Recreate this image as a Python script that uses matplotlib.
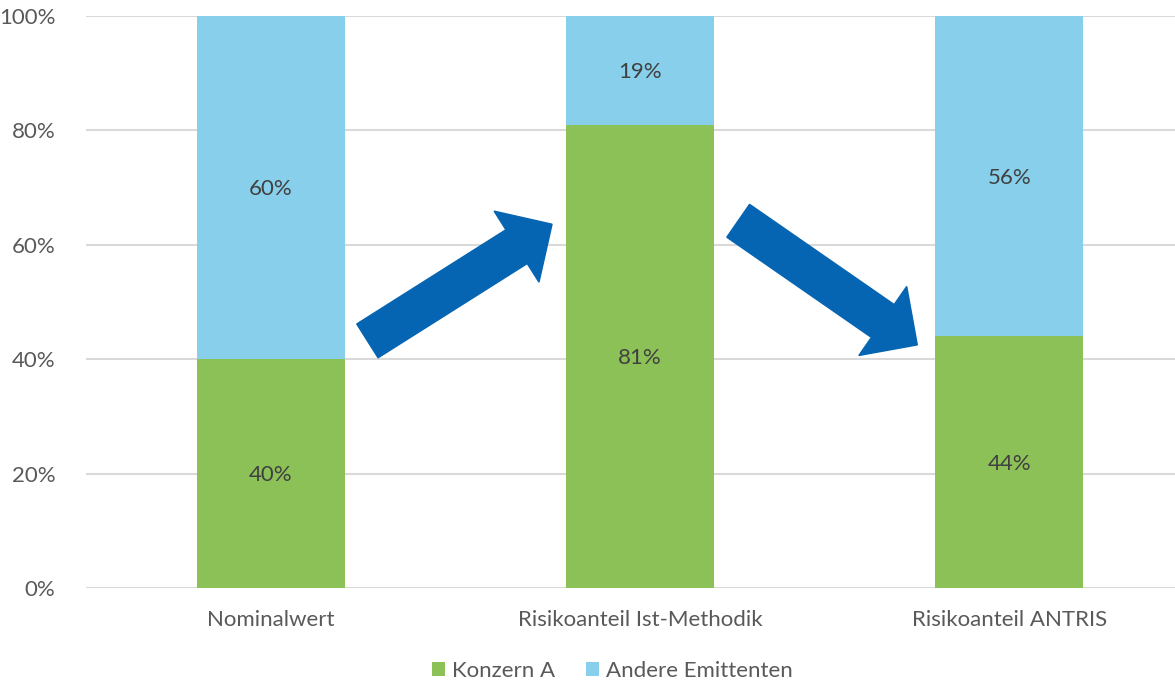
import matplotlib.pyplot as plt
import numpy as np
from matplotlib.patches import FancyArrow
from matplotlib.transforms import IdentityTransform

# Data
categories = ['Nominalwert', 'Risikoanteil Ist-Methodik', 'Risikoanteil ANTRIS']
konzern_a = [40, 81, 44]
andere = [60, 19, 56]
series_names = ['Konzern A', 'Andere Emittenten']
y_ticks = [0, 20, 40, 60, 80, 100]

# arrow annotations (start -> end in data coords)
arrows = [((0.262, 43.2), (0.762, 63.6)),
          ((1.266, 64.2), (1.751, 42.5))]

green = '#8CC157'
blue = '#87CFEA'
arrow_col = '#0565B2'
txt = '#595959'
fs = 16

plt.rcParams['font.family'] = ['Lato', 'DejaVu Sans']

fig = plt.figure(figsize=(11.75, 6.82), dpi=100)
ax = fig.add_axes([86 / 1175, 1 - 588 / 682, 1089 / 1175, 572 / 682])

x = np.arange(len(categories))
w = 0.4
ax.bar(x, konzern_a, w, color=green, label=series_names[0], zorder=3)
ax.bar(x, andere, w, bottom=konzern_a, color=blue, label=series_names[1], zorder=3)

for i in range(len(categories)):
    ax.text(x[i], konzern_a[i] / 2 - 0.3, f'{konzern_a[i]}%', ha='center', va='center',
            fontsize=fs, color='#404040', zorder=4)
    ax.text(x[i], konzern_a[i] + andere[i] / 2 - 0.3, f'{andere[i]}%', ha='center',
            va='center', fontsize=fs, color='#404040', zorder=4)

ax.set_xlim(-0.5, -0.5 + 1089 / 369.3)
ax.set_ylim(0, 100)
ax.set_yticks(y_ticks)
ax.set_yticklabels([f'{v}%' for v in y_ticks])
ax.set_xticks(x)
ax.set_xticklabels(categories)
ax.tick_params(axis='both', length=0, labelsize=fs, labelcolor=txt)
ax.tick_params(axis='y', pad=22)
ax.tick_params(axis='x', pad=16)
ax.grid(axis='y', color='#D9D9D9', linewidth=1.5, zorder=0)
for s in ax.spines.values():
    s.set_visible(False)

# arrows drawn in pixel space so the shape is not stretched
for (p0, p1) in arrows:
    a = ax.transData.transform(p0)
    b = ax.transData.transform(p1)
    d = b - a
    fig.add_artist(FancyArrow(a[0], a[1], d[0], d[1], width=40, head_width=84,
                              head_length=42, length_includes_head=True,
                              color=arrow_col, transform=IdentityTransform(),
                              zorder=5))

fig.legend(loc='center', bbox_to_anchor=(612 / 1175, 1 - 671 / 682), ncol=2,
           frameon=False, fontsize=fs, labelcolor=txt, handlelength=0.6,
           handleheight=0.6, handletextpad=0.3, columnspacing=1.4)

fig.savefig('out.png', dpi=100)
